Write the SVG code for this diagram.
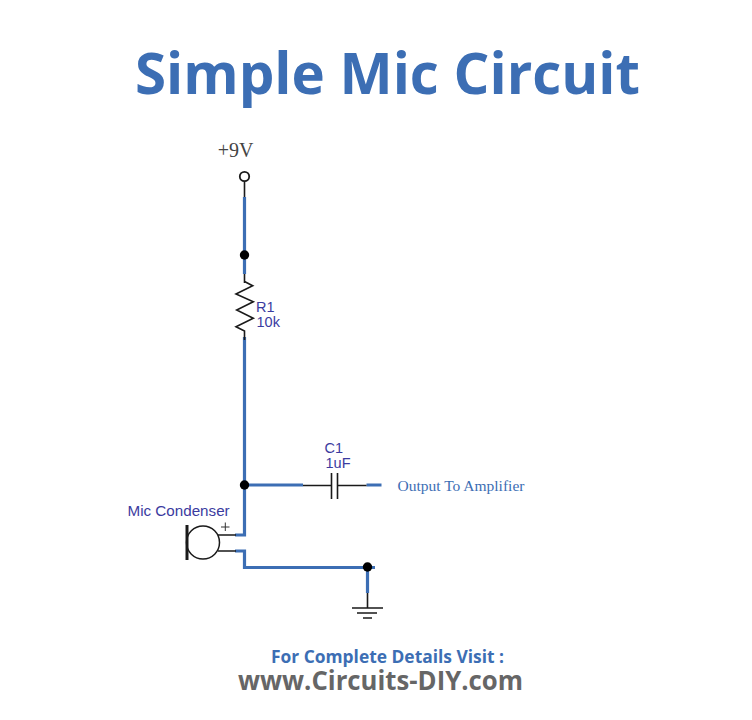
<svg xmlns="http://www.w3.org/2000/svg" width="752" height="720" viewBox="0 0 752 720">
<style>
.w{fill:none;stroke:#3c6eb4;stroke-width:3.2}
.k{fill:none;stroke:#1a1a1a;stroke-width:1.6}
.d{fill:#000}
.a{font-family:"Liberation Sans",Arial,sans-serif;font-size:14.5px;fill:#3b3ba0}
.s{font-family:"Liberation Serif","Times New Roman",serif}
.o{font-family:"Open Sans","Noto Sans",sans-serif;font-weight:700}
</style>
<rect width="752" height="720" fill="#fff"/>
<text id="title" class="o" x="135" y="94" font-size="58" textLength="505" lengthAdjust="spacingAndGlyphs" fill="#3c6eb4">Simple Mic Circuit</text>
<g id="connectors">
<path class="k" d="M244.500 181V197M244.500 274V283"/>
<path class="w" d="M244.500 197V274M244.500 337V535H235"/>
<path class="w" d="M244.500 485H303M366.500 485H381.500"/>
<path class="w" d="M235 551H244.500V567.500H375"/>
<path class="w" d="M367.500 567.500V593"/>
<path class="k" d="M367.500 593V608"/>
</g>
<g id="vcc"><circle cx="244.500" cy="176.500" r="4.700" fill="#fff" stroke="#1a1a1a" stroke-width="1.800"/><text class="s" x="235.500" y="156.500" font-size="20" text-anchor="middle" fill="#444">+9V</text></g>
<g id="j1"><circle class="d" cx="244.500" cy="255" r="4.700"/></g>
<g id="r1"><path class="k" d="M244.500 281.500L252.700 285.700L236 294L253.300 301.700L236.700 310L253.300 318.300L236 326.700L244.500 331V340"/><text class="a" x="256" y="311.500">R1</text><text class="a" x="256.500" y="326.500">10k</text></g>
<g id="j2"><circle class="d" cx="244.500" cy="485" r="4.700"/></g>
<g id="c1"><path class="k" d="M303 485.500H331.500M337.500 485.500H366.500M331.500 473V499M337.500 473V499" stroke-width="1.800"/><text class="a" x="324.500" y="452.500">C1</text><text class="a" x="325.500" y="468">1uF</text></g>
<g id="output"><text class="s" x="397.500" y="490.500" font-size="15.500" fill="#3c6eb4">Output To Amplifier</text></g>
<g id="mic"><circle cx="203" cy="542.500" r="16.500" fill="none" stroke="#1a1a1a" stroke-width="1.500"/><path d="M187 525V560" stroke="#1a1a1a" stroke-width="3"/><path class="k" d="M218 535H236M218 551H236"/><path d="M221 527H229.500M225.300 522.500V531" stroke="#333" stroke-width="1"/><text class="a" x="127.500" y="515.500" style="font-size:15.200px">Mic Condenser</text></g>
<g id="j3"><circle class="d" cx="367.500" cy="567" r="4.700"/></g>
<g id="gnd"><path class="k" d="M352 608H383M357 613H377M363 618H372"/></g>
<text id="visit" class="o" x="271" y="663" font-size="17" textLength="233" lengthAdjust="spacingAndGlyphs" fill="#3c6eb4">For Complete Details Visit :</text>
<text id="url" class="o" x="238" y="690" font-size="26" textLength="285" lengthAdjust="spacingAndGlyphs" fill="#666">www.Circuits-DIY.com</text>
</svg>
